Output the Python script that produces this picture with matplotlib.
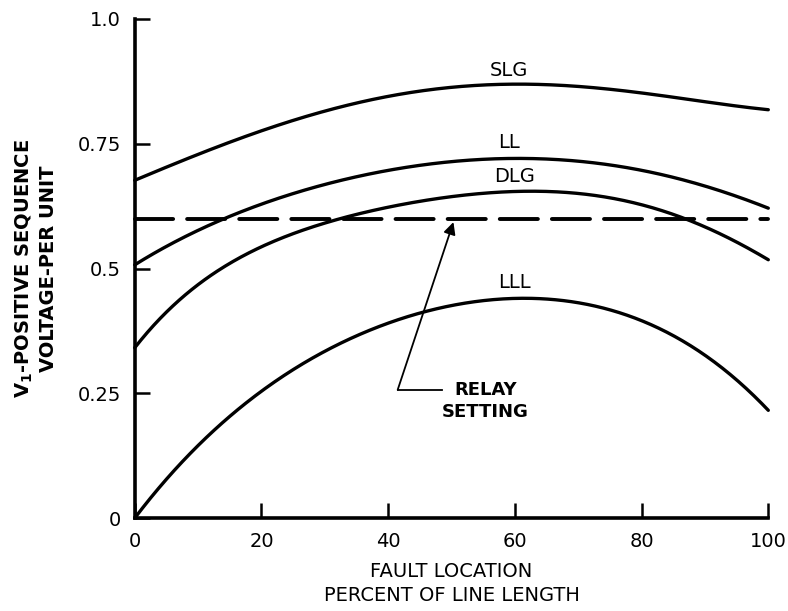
import matplotlib
matplotlib.use("Agg")
import matplotlib.pyplot as plt
import numpy as np

# Data (fault location in percent, V1 in per unit)
x_pts = [0, 5, 10, 20, 30, 40, 50, 60, 70, 80, 90, 100]
slg = [0.677, 0.703, 0.728, 0.777, 0.815, 0.845, 0.862, 0.870, 0.866, 0.850, 0.835, 0.818]
ll = [0.507, 0.545, 0.577, 0.627, 0.670, 0.697, 0.713, 0.721, 0.715, 0.697, 0.665, 0.621]
dlg = [0.340, 0.413, 0.472, 0.540, 0.588, 0.627, 0.645, 0.654, 0.648, 0.628, 0.585, 0.517]
lll = [0.000, 0.078, 0.145, 0.257, 0.331, 0.390, 0.427, 0.443, 0.430, 0.392, 0.330, 0.215]
relay_setting = 0.60

x_ticks = [0, 20, 40, 60, 80, 100]
x_ticklabels = ["0", "20", "40", "60", "80", "100"]
y_ticks = [0, 0.25, 0.5, 0.75, 1.0]
y_ticklabels = ["0", "0.25", "0.5", "0.75", "1.0"]

curve_labels = ["SLG", "LL", "DLG", "LLL"]
label_pos = [(59, 0.897), (59, 0.752), (60, 0.685), (60, 0.472)]

fig = plt.figure(figsize=(7.88, 6.11), dpi=100)
ax = fig.add_axes([0.171, 0.152, 0.804, 0.817])

xs = np.linspace(0, 100, 400)
for ys in (slg, ll, dlg, lll):
    # smooth curve through the read points
    coef = np.polyfit(x_pts, ys, 5)
    ax.plot(xs, np.polyval(coef, xs), color="black", lw=2.4,
            solid_capstyle="round", clip_on=False)

ax.plot([0, 100], [relay_setting, relay_setting], color="black", lw=2.8,
        dashes=(9.8, 3.6), dash_capstyle="round", clip_on=False)

for lab, (lx, ly) in zip(curve_labels, label_pos):
    ax.text(lx, ly, lab, ha="center", va="center", fontsize=14,
            family="DejaVu Sans")

# Relay setting annotation
ax.annotate("", xy=(50.3, 0.593), xytext=(41.5, 0.257),
            arrowprops=dict(arrowstyle="-|>", color="black", lw=1.3,
                            mutation_scale=18, shrinkA=0, shrinkB=0))
ax.plot([41.5, 48.5], [0.257, 0.257], color="black", lw=1.3)
ax.text(50.5, 0.257, "RELAY", ha="left", va="center", fontsize=13,
        fontweight="bold")
ax.text(48.5, 0.212, "SETTING", ha="left", va="center", fontsize=13,
        fontweight="bold")

ax.set_xlim(0, 100)
ax.set_ylim(0, 1.0)
ax.set_xticks(x_ticks)
ax.set_xticklabels(x_ticklabels)
ax.set_yticks(y_ticks)
ax.set_yticklabels(y_ticklabels)
ax.tick_params(direction="in", length=11, width=1.8, labelsize=14, pad=10)
for s in ("top", "right"):
    ax.spines[s].set_visible(False)
for s in ("left", "bottom"):
    ax.spines[s].set_linewidth(2.6)

ax.set_xlabel("FAULT LOCATION\nPERCENT OF LINE LENGTH", fontsize=14,
              linespacing=1.3, labelpad=8)
ax.set_ylabel("V$_{\\mathbf{1}}$-POSITIVE SEQUENCE\nVOLTAGE-PER UNIT", fontsize=14,
              fontweight="bold", linespacing=1.25, labelpad=14)

fig.savefig("out.png", dpi=100)
